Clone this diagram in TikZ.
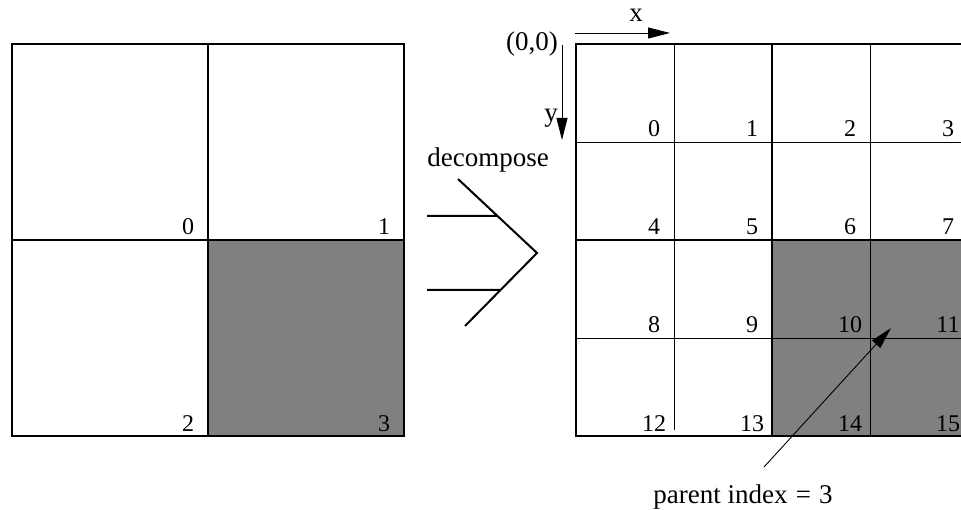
\documentclass[tikz,border=0pt]{standalone}
\usepackage{fontspec}
\setmainfont{Liberation Serif}
\usetikzlibrary{arrows.meta}
\tikzset{
  lbl/.style={anchor=base,font=\fontsize{24}{28}\selectfont,inner sep=0pt},
  txt/.style={font=\fontsize{27}{31}\selectfont,inner sep=0pt},
  tip/.style={-{Triangle[length=22pt,width=11pt]}}
}
\begin{document}
\begin{tikzpicture}[x=1pt,y=-1pt]
  \useasboundingbox (0,0) rectangle (961,510);
  % parent block
  \fill[black!50] (208,240) rectangle (404,436);
  \draw[line width=2pt] (208,44)--(208,436) (12,240)--(404,240);
  \draw[line width=2.6pt] (12,44) rectangle (404,436);
  \foreach \k/\i/\j in {0/0/0,1/1/0,2/0/1,3/1/1}
    \node[lbl] (p\k) at (188+196*\i,235+196*\j) {\k};
  % decompose arrow
  \node[txt,anchor=base] (dec) at (488,167) {decompose};
  \draw[line width=2pt] (458,179)--(537,253)--(465,326) (427,216)--(498,216) (427,290)--(501,290);
  % child blocks
  \fill[black!50] (772,240) rectangle (968,436);
  \draw[line width=0.9pt] (576,142)--(968,142) (576,338)--(968,338) (674,44)--(674,430) (870,44)--(870,436);
  \draw[line width=2pt] (772,44)--(772,436) (576,240)--(968,240);
  \draw[line width=2.6pt] (576,44) rectangle (968,436);
  \foreach \k in {0,...,15}{
    \pgfmathtruncatemacro\i{mod(\k,4)}
    \pgfmathtruncatemacro\j{div(\k,4)}
    \node[lbl] (c\k) at (654+98*\i,137+98*\j) {\k};
  }
  % axes
  \node[txt] (orig) at (532,44) {(0,0)};
  \node[txt] (xl) at (636,15) {x};
  \node[txt] (yl) at (551,118) {y};
  \coordinate (xs) at (575,33); \coordinate (xe) at (670,33);
  \coordinate (ys) at (562,45); \coordinate (ye) at (562,140);
  \draw[tip,line width=0.9pt] (xs)--(xe);
  \draw[tip,line width=0.9pt] (ys)--(ye);
  % pointer
  \node[txt,anchor=base] (par) at (743,503) {parent index\hspace{0.3em}=\hspace{0.3em}3};
  \coordinate (pf) at (764,467); \coordinate (pt) at (891,328);
  \draw[tip,line width=0.9pt] (pf)--(pt);
\end{tikzpicture}
\end{document}
